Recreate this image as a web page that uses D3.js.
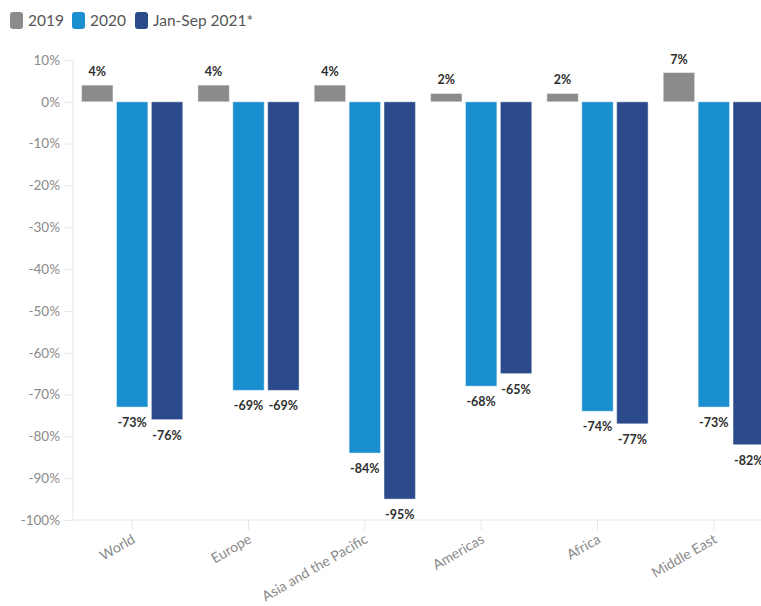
<!DOCTYPE html>
<html>
<head>
<meta charset="utf-8">
<script src="https://cdn.jsdelivr.net/npm/d3@7"></script>
<style>
  html, body { margin: 0; padding: 0; background: #fff; }
  svg { display: block; }
</style>
</head>
<body>
<svg id="chart" width="761" height="606"></svg>
<script>
// International tourist arrivals, % change by region
const regions = ["World", "Europe", "Asia and the Pacific", "Americas", "Africa", "Middle East"];
const seriesNames = ["2019", "2020", "Jan-Sep 2021*"];
const values2019 = [4, 4, 4, 2, 2, 7];
const values2020 = [-73, -69, -84, -68, -74, -73];
const values2021 = [-76, -69, -95, -65, -77, -82];
const yTicks = [10, 0, -10, -20, -30, -40, -50, -60, -70, -80, -90, -100];
const colors = ["#8b8b8b", "#1a8fcf", "#2a4a8b"];

const seriesValues = [values2019, values2020, values2021];
const rows = regions.map((r, i) => ({
  region: r,
  vals: seriesNames.map((s, j) => ({ key: s, idx: j, value: seriesValues[j][i] }))
}));

const svg = d3.select("#chart");
const font = "Lato, 'Open Sans', sans-serif";

const x0 = d3.scaleBand().domain(regions).range([74, 772]).paddingInner(0.13).paddingOuter(0.065);
const x1 = d3.scaleBand().domain(seriesNames).range([0, x0.bandwidth()]).paddingInner(0.1);
const y = d3.scaleLinear().domain([-100, 10]).range([520, 60]);

// y axis
const yAxis = svg.append("g")
  .attr("transform", "translate(73,0)")
  .call(d3.axisLeft(y).tickValues(yTicks).tickSize(8).tickPadding(5).tickFormat(d => d + "%"));
yAxis.select(".domain").attr("stroke", "#e6e6e6").attr("d", "M0,60V520");
yAxis.selectAll(".tick line").attr("stroke", "#e6e6e6");
yAxis.selectAll("text").attr("fill", "#8a8a8a").style("font-family", font).style("font-size", "13.5px");

// x axis
const xAxis = svg.append("g")
  .attr("transform", "translate(0,520)")
  .call(d3.axisBottom(x0).tickSize(10).tickSizeOuter(0).tickFormat(""));
xAxis.select(".domain").attr("stroke", "#e6e6e6").attr("d", "M73,0H761");
xAxis.selectAll(".tick line").attr("stroke", "#e6e6e6");

svg.append("g").selectAll("text")
  .data(regions)
  .join("text")
  .attr("transform", d => `translate(${x0(d) + x0.bandwidth() / 2 + 4},542) rotate(-30)`)
  .attr("text-anchor", "end")
  .attr("fill", "#8a8a8a")
  .style("font-family", font)
  .style("font-size", "14px")
  .text(d => d);

// bars
const groups = svg.append("g").selectAll("g")
  .data(rows)
  .join("g")
  .attr("transform", d => `translate(${x0(d.region)},0)`);

groups.selectAll("rect")
  .data(d => d.vals)
  .join("rect")
  .attr("x", d => x1(d.key))
  .attr("width", x1.bandwidth())
  .attr("y", d => y(Math.max(0, d.value)))
  .attr("height", d => Math.abs(y(d.value) - y(0)))
  .attr("fill", d => colors[d.idx])
  .attr("stroke", "rgba(255,255,255,0.45)")
  .attr("stroke-width", 1);

groups.selectAll("text")
  .data(d => d.vals)
  .join("text")
  .attr("x", d => x1(d.key) + x1.bandwidth() / 2)
  .attr("y", d => d.value >= 0 ? y(d.value) - 9 : y(d.value) + 20)
  .attr("text-anchor", "middle")
  .attr("fill", "#2e2e2e")
  .style("font-family", font)
  .style("font-weight", "bold")
  .style("font-size", "12.5px")
  .text(d => d.value + "%");

// legend
const legend = svg.append("g").attr("transform", "translate(10,12)");
const legendX = [0, 62, 125];
const items = legend.selectAll("g")
  .data(seriesNames)
  .join("g")
  .attr("transform", (d, i) => `translate(${legendX[i]},0)`);
items.append("rect")
  .attr("width", 13).attr("height", 17).attr("rx", 3)
  .attr("fill", (d, i) => colors[i]);
items.append("text")
  .attr("x", 18).attr("y", 14)
  .attr("fill", "#555")
  .style("font-family", font)
  .style("font-size", "15.5px")
  .text(d => d);
</script>
</body>
</html>
